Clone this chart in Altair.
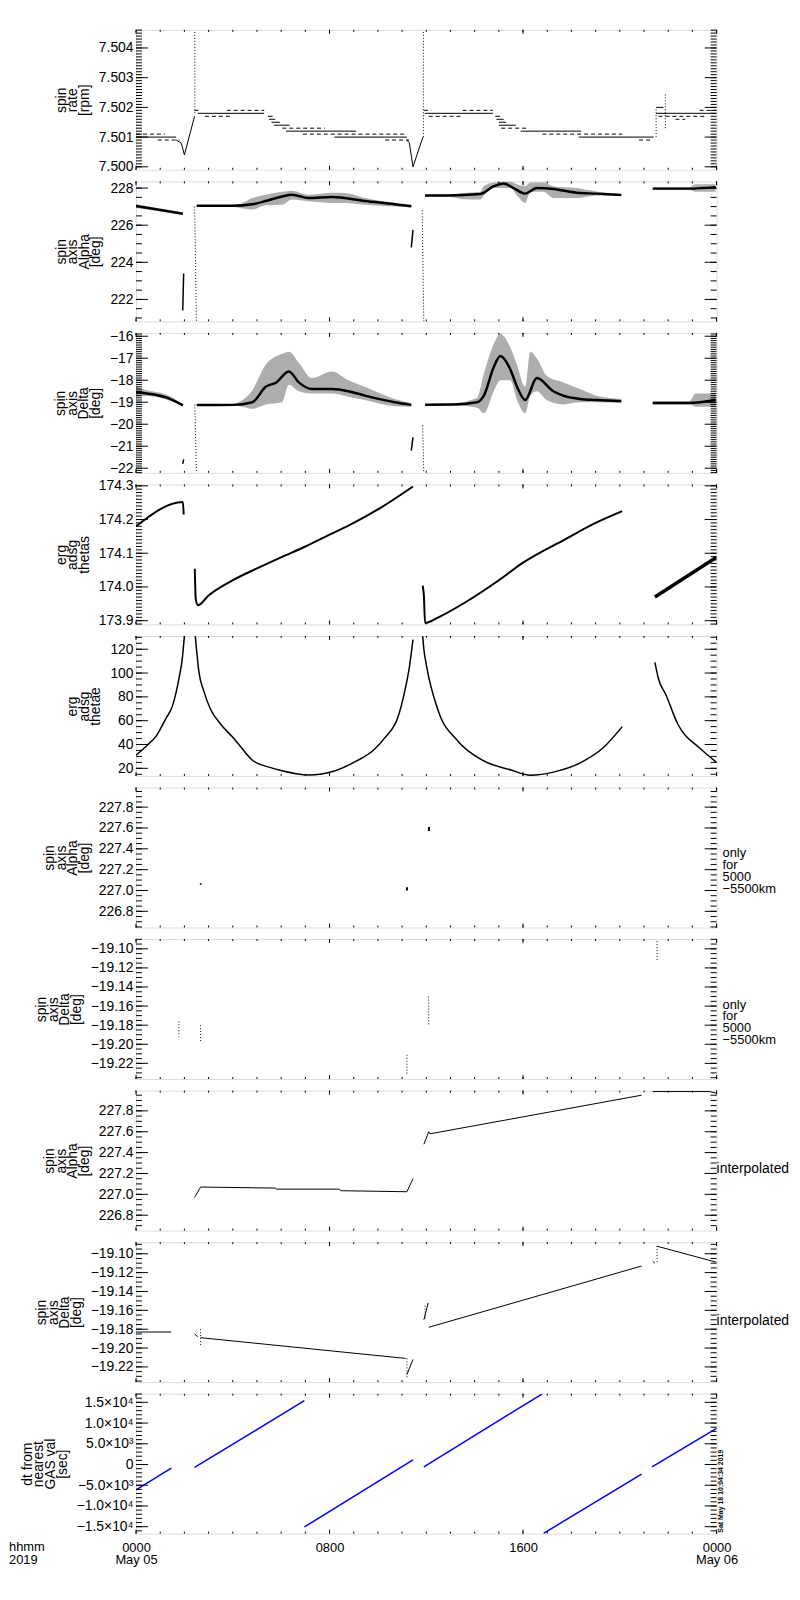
import json
import altair as alt
import pandas as pd

W, H = 585, 141
FONT = "Liberation Sans"
FS = 14

# ---------------- shared time axis (hours from 2019-05-05 00:00) ----------------
X_HOURS = list(range(25))
X_MAJOR = [0, 8, 16, 24]
X_TICK_TEXT = [["0000", "May 05"], "0800", "1600", ["0000", "May 06"]]

# ---------------- panel 1 : spin rate [rpm] ----------------
P1_DOMAIN = [7.4999, 7.50461]
P1_MAJOR = [7.500, 7.501, 7.502, 7.503, 7.504]
P1_MINOR = 0.0001
P1_LEVELS_SOLID = [
    (0.0, 1.66, 7.5010), (2.55, 5.30, 7.5018), (5.45, 5.65, 7.5017), (5.50, 5.75, 7.5016),
    (5.60, 5.95, 7.5015), (5.70, 6.35, 7.5014), (6.20, 9.10, 7.5012), (8.20, 11.20, 7.5010),
    (11.95, 14.75, 7.5018), (14.85, 15.05, 7.5017), (14.90, 15.20, 7.5016), (15.0, 15.30, 7.5015),
    (15.0, 15.70, 7.5014), (15.90, 18.40, 7.5012), (18.30, 21.40, 7.5010), (21.50, 21.80, 7.5020),
    (21.50, 24.0, 7.5018),
]
P1_LEVELS_DASH = [
    (0.0, 1.19, 7.5011), (0.9, 1.80, 7.5009), (2.42, 2.70, 7.5019), (2.85, 3.95, 7.5017),
    (3.75, 5.30, 7.5019), (6.05, 7.80, 7.5013), (6.90, 11.10, 7.5011), (10.3, 11.3, 7.5009),
    (11.9, 12.2, 7.5019), (12.1, 13.5, 7.5017), (13.5, 14.75, 7.5019), (15.1, 16.2, 7.5013),
    (16.8, 20.1, 7.5011), (20.8, 21.3, 7.5009), (21.6, 23.5, 7.5017), (22.3, 22.7, 7.5016),
    (23.3, 24.0, 7.5019),
]
P1_DIPS = [
    [(1.66, 7.5009), (1.87, 7.5008), (2.0, 7.5004), (2.42, 7.5017)],
    [(11.2, 7.5009), (11.3, 7.5008), (11.45, 7.5000), (11.86, 7.5010)],
]
P1_SPIKES = [
    [(2.43, 7.5018), (2.43, 7.5046)],
    [(11.88, 7.5010), (11.88, 7.5046)],
    [(21.5, 7.5010), (21.5, 7.5020)],
    [(21.88, 7.5013), (21.88, 7.5025)],
]

# ---------------- panel 2 : spin axis Alpha [deg] ----------------
P2_DOMAIN = [220.82, 228.36]
P2_MAJOR = [222, 224, 226, 228]
P2_MINOR = 0.5
P2_BANDS = [
    [(0, 226.93, 227.13), (1.94, 226.58, 226.68)],
    [(2.51, 226.99, 227.07), (4.0, 226.99, 227.07), (4.4, 226.9, 227.2), (4.81, 226.84, 227.46),
     (5.36, 227.07, 227.64), (6.04, 227.1, 227.8), (6.45, 227.38, 227.86), (7.13, 227.29, 227.64),
     (8.1, 227.2, 227.75), (8.64, 227.2, 227.73), (9.46, 227.1, 227.46), (10.69, 227.0, 227.2),
     (11.38, 226.97, 227.1)],
    [(11.95, 227.54, 227.62), (12.87, 227.54, 227.62), (13.5, 227.4, 227.73), (14.24, 227.38, 227.8),
     (14.38, 227.6, 228.1), (14.79, 228.0, 228.3), (15.47, 228.0, 228.36), (15.75, 227.6, 228.2),
     (16.09, 227.2, 228.1), (16.3, 227.8, 228.3), (16.85, 227.8, 228.3), (17.25, 227.46, 228.1),
     (18.21, 227.46, 228.0), (19.03, 227.6, 227.82), (20.06, 227.57, 227.68)],
    [(21.36, 227.9, 228.04), (22.87, 227.9, 228.04), (23.14, 227.8, 228.2), (23.96, 227.8, 228.2)],
]
P2_CORE = [
    [(0, 227.03), (1.94, 226.62)],
    [(2.51, 227.05), (4.0, 227.05), (4.81, 227.13), (5.36, 227.3), (6.04, 227.55), (6.45, 227.64),
     (7.13, 227.46), (8.1, 227.52), (9.46, 227.3), (10.69, 227.13), (11.38, 227.02)],
    [(11.95, 227.6), (12.87, 227.6), (14.24, 227.68), (14.79, 228.1), (15.2, 228.25), (15.61, 228.0),
     (16.09, 227.7), (16.57, 228.0), (17.25, 227.95), (18.21, 227.75), (19.03, 227.7), (20.06, 227.63)],
    [(21.36, 227.97), (22.87, 227.97), (23.96, 228.05)],
]
P2_SOLID = [
    [(1.93, 221.4), (1.97, 223.4)],
    [(11.38, 224.8), (11.45, 225.75)],
]
P2_DOTTED = [
    [(2.4, 227.0), (2.43, 226.5), (2.5, 220.5)],
    [(11.83, 226.8), (11.9, 220.5)],
]

# ---------------- panel 3 : spin axis Delta [deg] ----------------
P3_DOMAIN = [-22.21, -15.85]
P3_MAJOR = [-22, -21, -20, -19, -18, -17, -16]
P3_MINOR = 0.1
P3_BANDS = [
    [(0, -18.75, -18.3), (0.43, -18.72, -18.45), (1.25, -18.88, -18.65), (1.94, -19.18, -19.1)],
    [(2.51, -19.16, -19.1), (4.0, -19.16, -19.08), (4.4, -19.2, -18.9), (4.81, -19.3, -18.45),
     (5.36, -19.1, -17.3), (6.04, -19.0, -16.8), (6.32, -18.2, -16.7), (6.73, -18.5, -17.2),
     (7.27, -18.6, -17.9), (8.1, -18.6, -17.6), (8.78, -18.75, -18.0), (9.46, -18.9, -18.3),
     (10.69, -19.18, -18.85), (11.38, -19.2, -19.05)],
    [(11.95, -19.15, -19.08), (13.15, -19.15, -19.05), (14.1, -19.25, -18.8), (14.38, -19.5, -17.7),
     (14.79, -18.5, -16.35), (15.06, -18.0, -15.9), (15.47, -18.0, -16.5), (15.75, -18.9, -17.3),
     (16.09, -19.5, -18.3), (16.3, -18.7, -16.7), (16.57, -18.5, -17.0), (16.98, -18.9, -17.8),
     (17.66, -19.1, -18.1), (18.35, -19.0, -18.4), (19.03, -19.0, -18.7), (20.06, -19.05, -18.85)],
    [(21.36, -19.1, -18.95), (22.87, -19.1, -18.95), (23.14, -19.2, -18.6), (23.96, -19.2, -18.6)],
]
P3_CORE = [
    [(0, -18.55), (0.43, -18.6), (1.25, -18.78), (1.94, -19.14)],
    [(2.51, -19.13), (4.0, -19.12), (4.81, -19.0), (5.36, -18.3), (5.8, -18.1), (6.32, -17.6), (6.73, -18.1),
     (7.27, -18.4), (8.1, -18.4), (8.78, -18.5), (9.46, -18.7), (10.69, -19.0), (11.38, -19.12)],
    [(11.95, -19.11), (13.15, -19.1), (14.1, -19.0), (14.38, -18.7), (14.79, -17.4), (15.06, -16.9),
     (15.47, -17.5), (15.75, -18.3), (16.09, -18.9), (16.57, -17.9), (17.25, -18.5), (17.66, -18.7),
     (18.35, -18.85), (19.03, -18.9), (20.06, -18.95)],
    [(21.36, -19.03), (22.87, -19.03), (23.96, -18.9)],
]
P3_SOLID = [
    [(1.93, -21.8), (1.97, -21.6)],
    [(11.38, -21.2), (11.45, -20.6)],
]
P3_DOTTED = [
    [(2.43, -19.1), (2.5, -22.4)],
    [(11.85, -20.06), (11.9, -22.4)],
]

# ---------------- panel 4 : erg adsg thetas ----------------
P4_DOMAIN = [173.889, 174.304]
P4_MAJOR = [173.9, 174.0, 174.1, 174.2, 174.3]
P4_MINOR = 0.01
P4_LINES = [
    [(0, 174.18), (1.94, 174.252), (1.97, 174.215)],
    [(2.43, 174.054), (2.47, 173.964), (2.56, 173.946), (3.0, 173.975), (4.0, 174.02), (5.0, 174.055),
     (6.0, 174.088), (7.0, 174.12), (8.0, 174.155), (9.0, 174.19), (10.0, 174.23), (11.45, 174.298)],
    [(11.85, 174.004), (11.9, 173.974), (11.95, 173.893), (12.5, 173.91), (13.6, 173.954), (15.0, 174.02),
     (16.0, 174.072), (17.7, 174.14), (19.0, 174.19), (20.1, 174.225)],
]
P4_THICK = [[(21.45, 173.97), (24, 174.088)]]

# ---------------- panel 5 : erg adsg thetae ----------------
P5_DOMAIN = [13.6, 131.1]
P5_MAJOR = [20, 40, 60, 80, 100, 120]
P5_MINOR = 5
P5_LINES = [
    [(0, 31), (0.5, 40), (0.83, 47), (1.24, 62), (1.5, 72), (1.66, 84), (1.8, 98), (1.9, 110), (2.0, 131)],
    [(2.45, 131), (2.5, 120), (2.6, 101), (2.8, 85), (3.07, 70), (3.5, 57), (4.0, 46), (4.25, 40), (4.8, 27),
     (5.5, 21), (6.03, 18), (7.14, 14.4), (8.2, 17.8), (9.1, 26), (9.8, 35), (10.3, 46), (10.83, 63),
     (11.1, 84), (11.3, 105), (11.45, 128)],
    [(11.85, 131), (11.9, 120), (12.0, 107), (12.5, 68), (13.3, 43), (14.3, 27), (15.5, 18.6), (16.3, 14.2),
     (17.3, 17), (18.5, 26), (19.3, 37), (20.1, 55)],
    [(21.45, 109), (21.6, 95), (21.9, 82), (22.4, 57), (23.3, 37), (24, 25)],
]

# ---------------- panel 6 : spin axis Alpha, only for 5000-5500 km ----------------
P6_DOMAIN = [226.645, 227.988]
P6_MAJOR = [226.8, 227.0, 227.2, 227.4, 227.6, 227.8]
P6_MINOR = 0.05
P6_MARKS = [
    [(2.66, 227.058), (2.69, 227.068)],
    [(11.2, 227.0), (11.2, 227.03)],
    [(12.1, 227.57), (12.12, 227.61)],
]

# ---------------- panel 7 : spin axis Delta, only for 5000-5500 km ----------------
P7_DOMAIN = [-19.2364, -19.0898]
P7_MAJOR = [-19.22, -19.20, -19.18, -19.16, -19.14, -19.12, -19.10]
P7_MINOR = 0.005
P7_DOTTED = [
    [(1.77, -19.176), (1.77, -19.192)],
    [(2.67, -19.18), (2.67, -19.197)],
    [(12.1, -19.15), (12.1, -19.18)],
    [(11.2, -19.211), (11.2, -19.233)],
    [(21.54, -19.092), (21.54, -19.112)],
]

# ---------------- panel 8 : spin axis Alpha, interpolated ----------------
P8_DOMAIN = [226.653, 227.994]
P8_MAJOR = [226.8, 227.0, 227.2, 227.4, 227.6, 227.8]
P8_MINOR = 0.05
P8_LINES = [
    [(2.42, 226.97), (2.67, 227.07), (5.77, 227.06), (5.8, 227.05), (8.4, 227.05), (8.45, 227.035),
     (11.2, 227.025), (11.45, 227.15)],
    [(11.9, 227.48), (12.1, 227.6), (12.15, 227.58), (20.9, 227.95)],
    [(21.36, 227.985), (23.7, 227.985), (24, 227.97)],
]

# ---------------- panel 9 : spin axis Delta, interpolated ----------------
P9_DOMAIN = [-19.2361, -19.0877]
P9_MAJOR = [-19.22, -19.20, -19.18, -19.16, -19.14, -19.12, -19.10]
P9_MINOR = 0.005
P9_LINES = [
    [(0, -19.183), (1.46, -19.183)],
    [(2.42, -19.185), (2.55, -19.188)],
    [(2.67, -19.189), (11.15, -19.211)],
    [(11.2, -19.228), (11.45, -19.212)],
    [(11.9, -19.17), (12.08, -19.152)],
    [(12.1, -19.178), (20.9, -19.113)],
    [(21.36, -19.108), (21.45, -19.11)],
    [(21.54, -19.092), (24, -19.109)],
]
P9_DOTTED = [
    [(2.67, -19.18), (2.67, -19.197)],
    [(11.2, -19.211), (11.2, -19.233)],
    [(11.95, -19.155), (11.95, -19.17)],
    [(21.54, -19.092), (21.54, -19.11)],
]

# ---------------- panel 10 : dt from nearest GAS val [sec] ----------------
P10_DOMAIN = [-16676, 17083]
P10_MAJOR = [-15000, -10000, -5000, 0, 5000, 10000, 15000]
P10_LABELS = ["\u22121.5\u00d710\u2074", "\u22121.0\u00d710\u2074", "\u22125.0\u00d710\u00b3", "0",
              "5.0\u00d710\u00b3", "1.0\u00d710\u2074", "1.5\u00d710\u2074"]
P10_MINOR = 1000
P10_LINES = [
    [(0, -6100), (1.46, -850)],
    [(2.42, -700), (6.96, 15400)],
    [(6.96, -15070), (11.45, 1100)],
    [(11.9, -560), (16.78, 17000)],
    [(16.85, -16600), (20.9, -2300)],
    [(21.33, -560), (24, 8700)],
]


# ---------------- helpers ----------------
def ternary(values, texts):
    expr = json.dumps(texts[-1], ensure_ascii=False)
    for v, t in reversed(list(zip(values[:-1], texts[:-1]))):
        expr = f"datum.value == {v} ? {json.dumps(t, ensure_ascii=False)} : ({expr})"
    return expr


def poly_df(polys):
    rows = []
    for i, p in enumerate(polys):
        for j, (h, v) in enumerate(p):
            rows.append({"seg": i, "o": j, "h": h, "v": v})
    return pd.DataFrame(rows)


def level_polys(levels):
    return [[(a, v), (b, v)] for a, b, v in levels]


def band_frame(band):
    return pd.DataFrame([{"h": h, "v": lo, "hi": hi} for h, lo, hi in band])


def minor_values(dom, step):
    k0 = int(round(dom[0] / step - 0.5 + 1e-9)) + 1
    k1 = int(round(dom[1] / step + 0.5 - 1e-9)) - 1
    vals = [round(k * step, 6) for k in range(k0, k1 + 1)]
    return [v for v in vals if dom[0] <= v <= dom[1]]


def panel(dom, majors, minor_step, label_expr, title, layers_spec, bottom=False, texts=()):
    xs = alt.Scale(domain=[0, 24], nice=False, zero=False)
    ys = alt.Scale(domain=dom, nice=False, zero=False)
    if bottom:
        x_axis = alt.Axis(values=X_MAJOR, labelExpr=ternary(X_MAJOR, X_TICK_TEXT), ticks=False, tickSize=0,
                          domain=False, grid=False, labelPadding=8, labelFont=FONT, labelFontSize=13,
                          labelColor="black", labelLineHeight=12.5, labelFlush=False, labelOverlap=False,
                          labelBound=False, title=None)
    else:
        x_axis = None
    y_axis = alt.Axis(values=majors, labelExpr=label_expr, ticks=False, tickSize=0, domain=False, grid=False,
                      labelPadding=3, labelFont=FONT, labelFontSize=FS, labelColor="black",
                      labelOverlap=False, labelFlush=False, labelBound=False,
                      title=title, titleFont=FONT, titleFontSize=FS, titleFontWeight="normal",
                      titleColor="black", titleLineHeight=11.7, titlePadding=7)
    X = lambda: alt.X("h:Q", scale=xs, axis=x_axis)
    Y = lambda: alt.Y("v:Q", scale=ys, axis=y_axis)
    layers = []

    for kind, polys, style in layers_spec:
        if kind == "band":
            for band in polys:
                layers.append(
                    alt.Chart(band_frame(band)).mark_area(color="black", fill="black", fillOpacity=0.32,
                                                          interpolate="monotone", clip=True).encode(
                        x=X(), y=Y(), y2=alt.Y2("hi")))
        else:
            mk = dict(color=style.get("color", "black"), strokeWidth=style.get("sw", 1), clip=True)
            if "dash" in style:
                mk["strokeDash"] = style["dash"]
            if "interp" in style:
                mk["interpolate"] = style["interp"]
            layers.append(
                alt.Chart(poly_df(polys)).mark_line(**mk).encode(
                    x=X(), y=Y(), detail="seg:N", order="o:Q"))

    # inward ticks (x: minor every hour, major every 8 h)
    for vals, L in ((X_HOURS, 2), (X_MAJOR, 4)):
        base = alt.Chart(pd.DataFrame({"h": vals})).mark_rule(color="black", strokeWidth=1)
        layers.append(base.encode(x=X(), y=alt.value(0), y2=alt.value(L)))
        layers.append(base.encode(x=X(), y=alt.value(H - L), y2=alt.value(H)))

    # inward ticks (y)
    for vals, L in ((minor_values(dom, minor_step), 6), (majors, 12)):
        base = alt.Chart(pd.DataFrame({"v": vals})).mark_rule(color="black", strokeWidth=1)
        layers.append(base.encode(y=Y(), x=alt.value(0), x2=alt.value(L)))
        layers.append(base.encode(y=Y(), x=alt.value(W - L), x2=alt.value(W)))

    one = pd.DataFrame({"a": [0]})
    for t in texts:
        props = dict(t["mark"])
        props.setdefault("font", FONT)
        props.setdefault("fontSize", FS)
        props.setdefault("color", "black")
        layers.append(alt.Chart(one).mark_text(**props).encode(x=alt.value(t["x"]), y=alt.value(t["y"])))

    return alt.layer(*layers).properties(width=W, height=H)


fmt = lambda f: f"format(datum.value, '{f}')"

ONLY_TXT = dict(mark=dict(text=["\u00a0only", "for", "5000", "\u22125500km"], align="left", baseline="top",
                          fontSize=13, lineHeight=12), x=W + 6, y=60)
INTERP_TXT = dict(mark=dict(text="interpolated", align="left", baseline="middle"), x=W, y=79)
SMOOTH = "monotone"

panels = [
    panel(P1_DOMAIN, P1_MAJOR, P1_MINOR, fmt(".3f"), ["spin", "rate", "[rpm]"],
          [("line", level_polys(P1_LEVELS_SOLID), {}),
           ("line", level_polys(P1_LEVELS_DASH), {"dash": [4, 3]}),
           ("line", P1_DIPS, {}),
           ("line", P1_SPIKES, {"dash": [1, 2]})]),
    panel(P2_DOMAIN, P2_MAJOR, P2_MINOR, fmt("d"), ["spin", "axis", "Alpha", "[deg]"],
          [("band", P2_BANDS, {}), ("line", P2_CORE, {"sw": 2.5, "interp": SMOOTH}),
           ("line", P2_SOLID, {"sw": 1.5}), ("line", P2_DOTTED, {"dash": [1, 2]})]),
    panel(P3_DOMAIN, P3_MAJOR, P3_MINOR, fmt("d"), ["spin", "axis", "Delta", "[deg]"],
          [("band", P3_BANDS, {}), ("line", P3_CORE, {"sw": 2.5, "interp": SMOOTH}),
           ("line", P3_SOLID, {"sw": 1.5}), ("line", P3_DOTTED, {"dash": [1, 2]})]),
    panel(P4_DOMAIN, P4_MAJOR, P4_MINOR, fmt(".1f"), ["erg", "adsg", "thetas"],
          [("line", P4_LINES, {"sw": 2, "interp": SMOOTH}), ("line", P4_THICK, {"sw": 3.5})]),
    panel(P5_DOMAIN, P5_MAJOR, P5_MINOR, fmt("d"), ["erg", "adsg", "thetae"],
          [("line", P5_LINES, {"sw": 1.5, "interp": SMOOTH})]),
    panel(P6_DOMAIN, P6_MAJOR, P6_MINOR, fmt(".1f"), ["spin", "axis", "Alpha", "[deg]"],
          [("line", P6_MARKS, {"sw": 2})], texts=[ONLY_TXT]),
    panel(P7_DOMAIN, P7_MAJOR, P7_MINOR, fmt(".2f"), ["spin", "axis", "Delta", "[deg]"],
          [("line", P7_DOTTED, {"dash": [1, 2]})], texts=[ONLY_TXT]),
    panel(P8_DOMAIN, P8_MAJOR, P8_MINOR, fmt(".1f"), ["spin", "axis", "Alpha", "[deg]"],
          [("line", P8_LINES, {})], texts=[INTERP_TXT]),
    panel(P9_DOMAIN, P9_MAJOR, P9_MINOR, fmt(".2f"), ["spin", "axis", "Delta", "[deg]"],
          [("line", P9_LINES, {}), ("line", P9_DOTTED, {"dash": [1, 2]})], texts=[INTERP_TXT]),
    panel(P10_DOMAIN, P10_MAJOR, P10_MINOR, ternary(P10_MAJOR, P10_LABELS),
          ["dt from", "nearest", "GAS val", "[sec]"],
          [("line", P10_LINES, {"color": "#0000ff", "sw": 1.5})], bottom=True,
          texts=[dict(mark=dict(text=["hhmm", "2019"], align="left", baseline="top", fontSize=13,
                                lineHeight=12.5), x=-128, y=H + 8),
                 dict(mark=dict(text="Sat May 18 10:04:34 2019", angle=270, align="left", baseline="middle",
                                fontSize=7, fontWeight="bold"), x=W + 4, y=H - 1)]),
]

chart = alt.vconcat(*panels, spacing=11.7, bounds="flush").properties(
    padding={"left": 0, "top": 15, "right": 2, "bottom": 5}
).configure_view(stroke="black", strokeWidth=1.2).configure(background="white")

chart.save("out.html", embed_options={"renderer": "svg", "actions": False})
